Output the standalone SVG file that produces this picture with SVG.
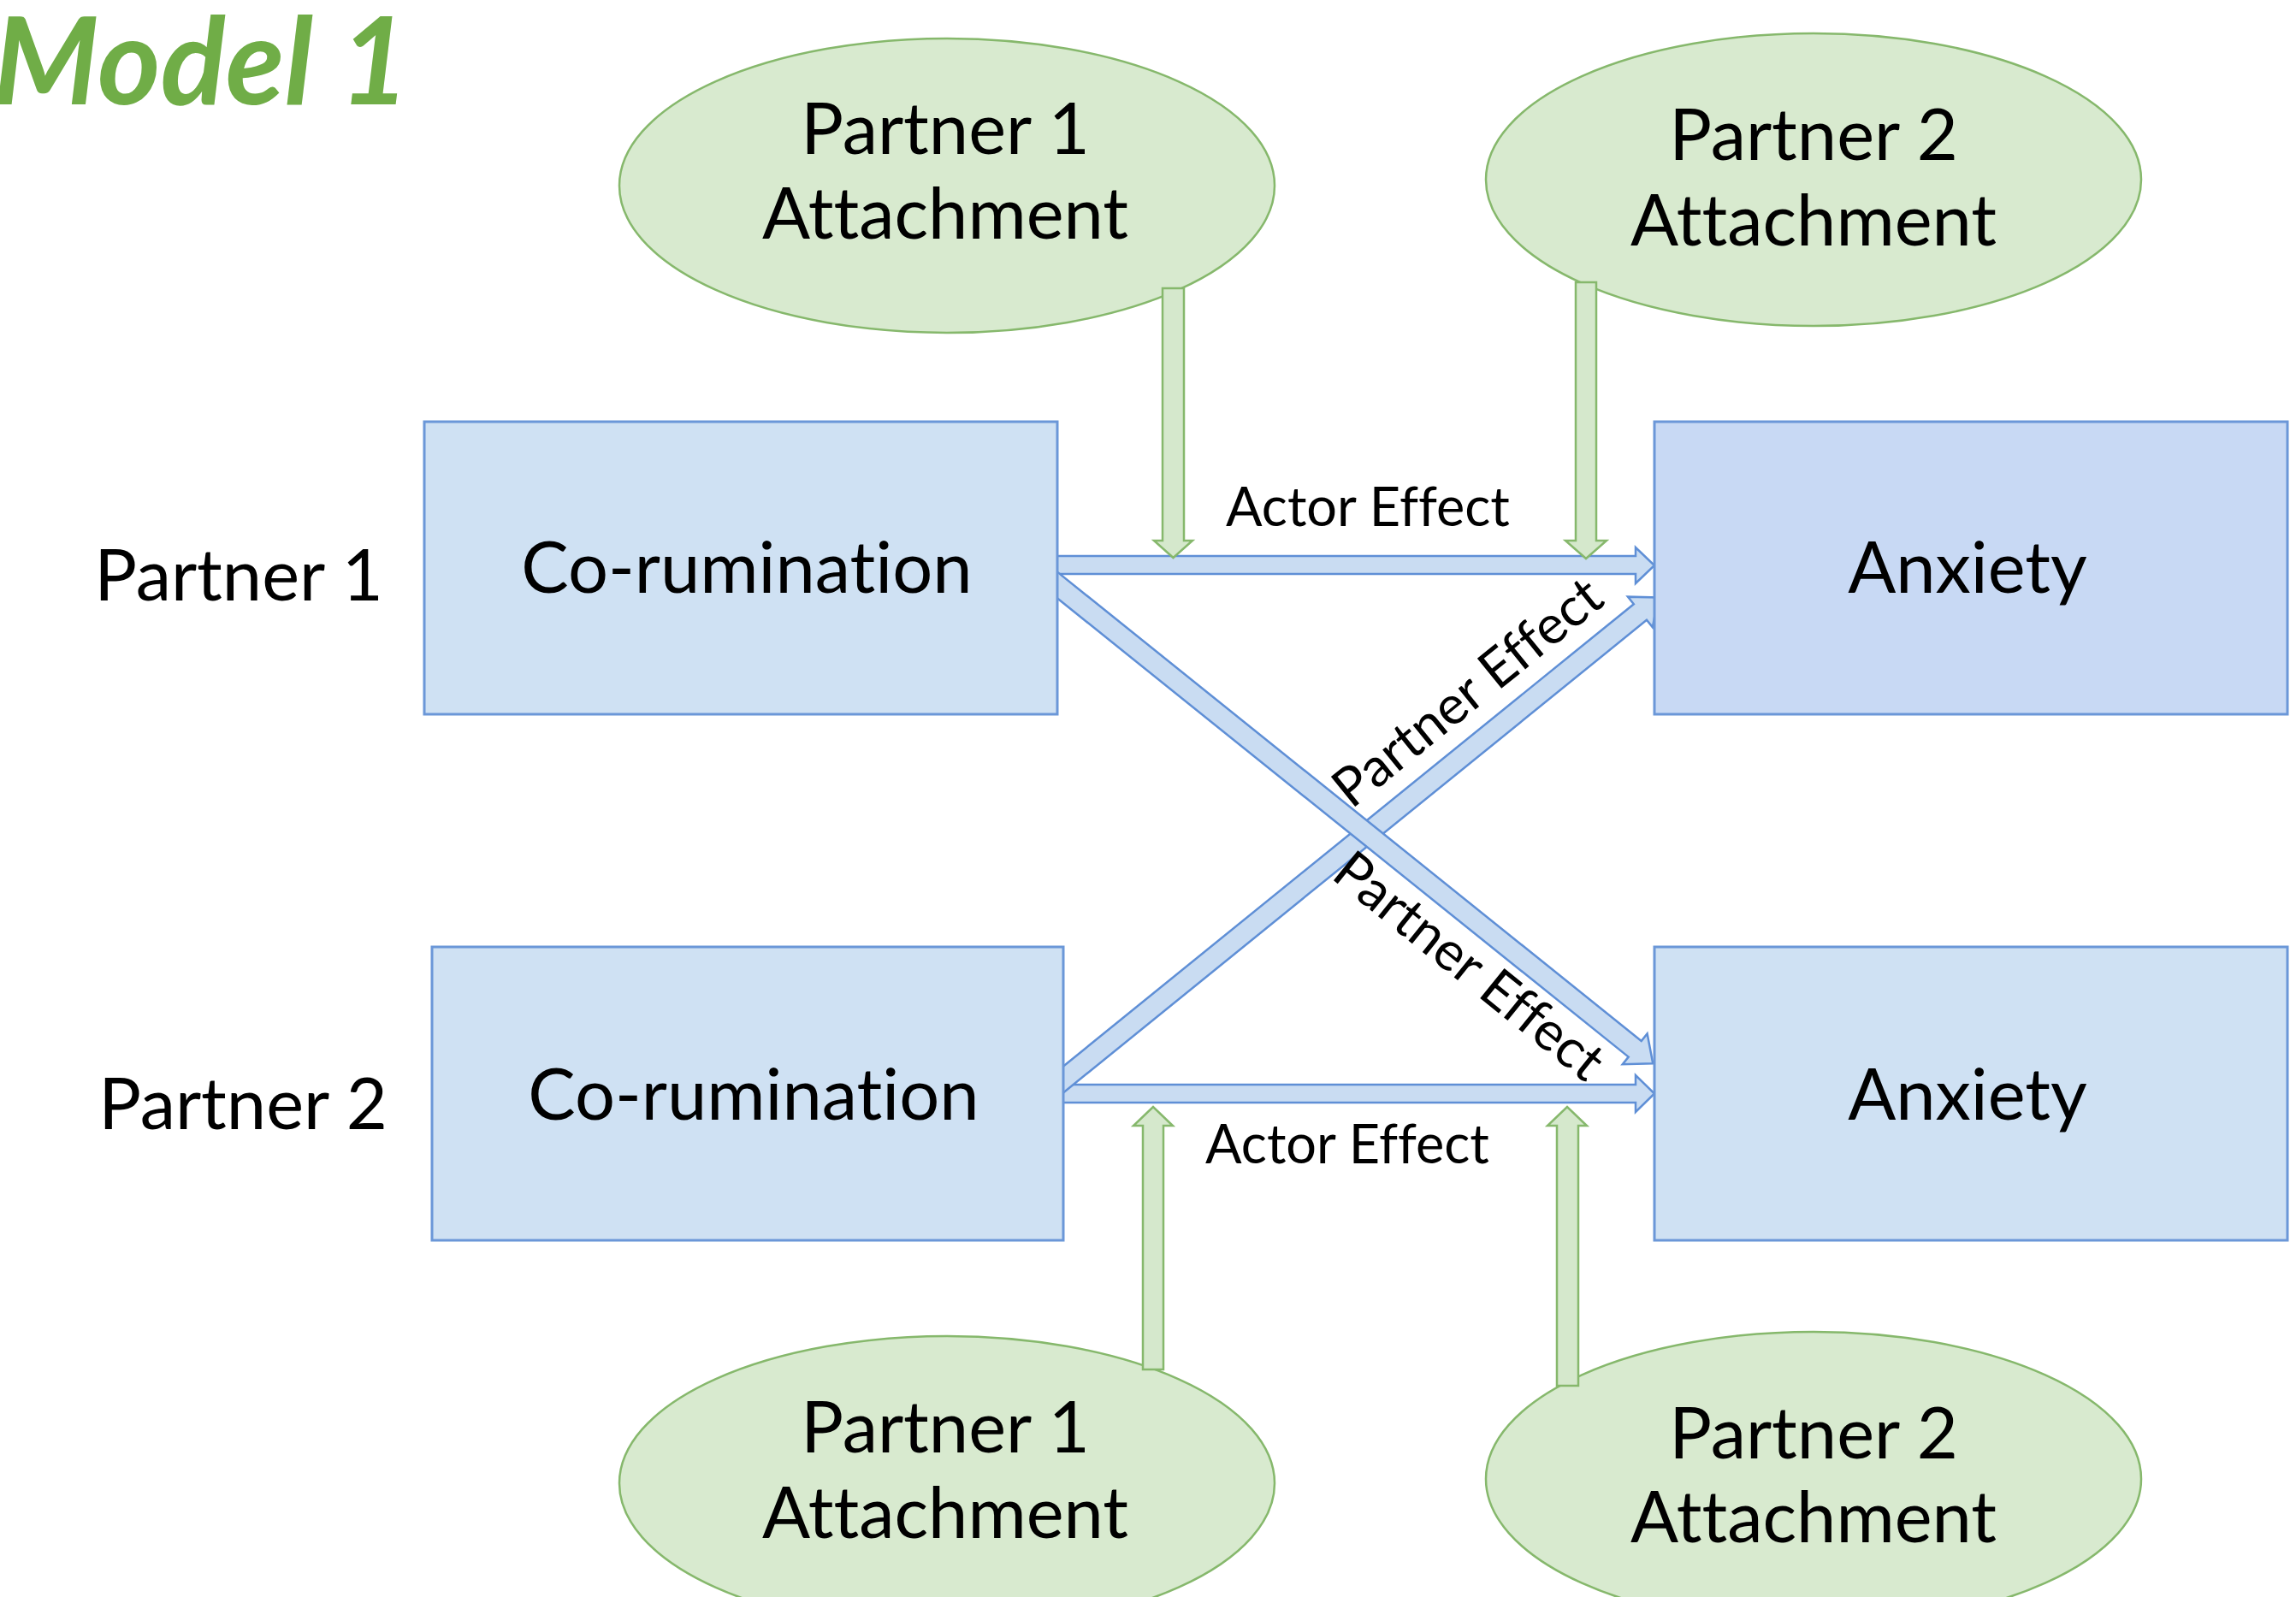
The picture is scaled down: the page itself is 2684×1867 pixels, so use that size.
<svg xmlns="http://www.w3.org/2000/svg" width="2684" height="1867" viewBox="0 0 2684 1867">
<defs>
<style>
.lbl{font-family:Lato,"Liberation Sans",sans-serif;fill:#000;text-anchor:middle;font-variant-ligatures:none;font-feature-settings:"liga" 0,"clig" 0}
.big{font-size:83px}
.eff{font-size:63px}
.ell{fill:#d8eacf;stroke:#86b86c;stroke-width:2.5}
.box{fill:#cfe1f3;stroke:#6b97d8;stroke-width:3}
.box2{fill:#c8d9f4;stroke:#6b97d8;stroke-width:3}
.barrow{fill:#c9dcf2;stroke:#5f8fd6;stroke-width:2.5;stroke-linejoin:miter}
.garrow{fill:#d5e8cc;stroke:#86b86c;stroke-width:2.5}
.title{font-family:Lato,"Liberation Sans",sans-serif;font-weight:bold;font-style:italic;font-size:141px;fill:#70ad47;font-variant-ligatures:none}
</style>
</defs>
<rect width="2684" height="1867" fill="#ffffff"/>
<text class="title" x="-8" y="122">Model 1</text>

<g id="att-p1-top">
<ellipse class="ell" cx="1107" cy="217" rx="383" ry="172"/>
<text class="lbl big" x="1105" y="180">Partner 1</text>
<text class="lbl big" x="1105" y="279">Attachment</text>
</g>
<g id="att-p2-top">
<ellipse class="ell" cx="2120" cy="210" rx="383" ry="171"/>
<text class="lbl big" x="2120" y="187">Partner 2</text>
<text class="lbl big" x="2120" y="287">Attachment</text>
</g>
<g id="att-p1-bottom">
<ellipse class="ell" cx="1107" cy="1734" rx="383" ry="172"/>
<text class="lbl big" x="1105" y="1698">Partner 1</text>
<text class="lbl big" x="1105" y="1798">Attachment</text>
</g>
<g id="att-p2-bottom">
<ellipse class="ell" cx="2120" cy="1729" rx="383" ry="172"/>
<text class="lbl big" x="2120" y="1705">Partner 2</text>
<text class="lbl big" x="2120" y="1803">Attachment</text>
</g>

<g id="connectors">
<polygon class="barrow" points="1230,650 1912,650 1912,640 1934,661 1912,682 1912,671 1230,671"/>
<polygon class="barrow" points="1238,1268 1912,1268 1912,1257 1934,1278.5 1912,1300 1912,1289 1238,1289"/>
<polygon class="barrow" transform="translate(1243,1262) rotate(-39.02)" points="-20,-12 868,-12 868,-23 895,0 868,23 868,12 -20,12"/>
<polygon class="barrow" transform="translate(1236,684) rotate(38.77)" points="-20,-12 866,-12 866,-23 893,0 866,23 866,12 -20,12"/>
<polygon class="garrow" points="1359,337 1384,337 1384,632 1394,632 1371.5,652 1349,632 1359,632"/>
<polygon class="garrow" points="1842,330 1866,330 1866,632 1878,632 1854,653 1830,632 1842,632"/>
<polygon class="garrow" points="1336,1601 1360,1601 1360,1316 1371,1316 1348,1294 1325,1316 1336,1316"/>
<polygon class="garrow" points="1820,1620 1845,1620 1845,1316 1855,1316 1832,1294 1809,1316 1820,1316"/>
<text class="lbl eff" x="1599" y="615">Actor Effect</text>
<text class="lbl eff" x="1575" y="1360">Actor Effect</text>
<text class="lbl eff" transform="translate(1729,826) rotate(-39)">Partner Effect</text>
<text class="lbl eff" transform="translate(1704,1146) rotate(38.8)">Partner Effect</text>
</g>

<g id="corum-p1">
<rect class="box" x="496" y="493" width="740" height="342"/>
<text class="lbl big" x="873" y="693">Co-rumination</text>
</g>
<g id="anx-p1">
<rect class="box2" x="1934" y="493" width="740" height="342"/>
<text class="lbl big" x="2300" y="693">Anxiety</text>
</g>
<g id="corum-p2">
<rect class="box" x="505" y="1107" width="738" height="343"/>
<text class="lbl big" x="881" y="1309">Co-rumination</text>
</g>
<g id="anx-p2">
<rect class="box" x="1934" y="1107" width="740" height="343"/>
<text class="lbl big" x="2300" y="1309">Anxiety</text>
</g>
<g id="label-p1">
<text class="lbl big" x="279" y="702">Partner 1</text>
</g>
<g id="label-p2">
<text class="lbl big" x="284" y="1320">Partner 2</text>
</g>
</svg>
